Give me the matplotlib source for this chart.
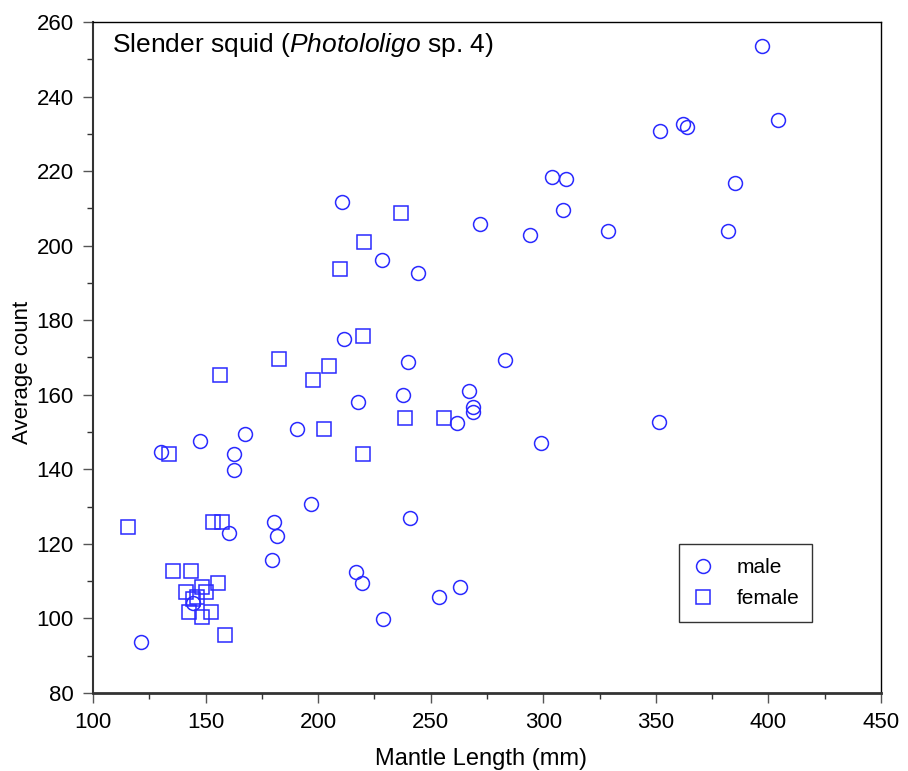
import matplotlib
matplotlib.use("Agg")
import matplotlib.pyplot as plt
from matplotlib.ticker import MultipleLocator

plt.rcParams["font.family"] = ["Liberation Sans", "DejaVu Sans"]
plt.rcParams["mathtext.fontset"] = "custom"
plt.rcParams["mathtext.rm"] = "Liberation Sans"
plt.rcParams["mathtext.it"] = "Liberation Sans:italic"

# male (circles)
male_ml = [121.5, 130.2, 144.4, 147.5, 160.5, 162.6, 162.6, 167.5, 179.7, 180.5,
           181.6, 190.5, 196.8, 210.6, 211.5, 216.7, 217.6, 219.6, 228.4, 228.6,
           237.8, 239.8, 240.8, 244.4, 253.8, 261.8, 262.9, 266.9, 268.9, 268.9,
           271.8, 282.8, 294.0, 298.8, 303.9, 308.9, 310.0, 328.9, 351.4, 352.0,
           361.9, 364.0, 382.0, 385.0, 397.0, 404.1]
male_cnt = [93.7, 144.6, 104.2, 147.6, 122.8, 144.0, 139.8, 149.5, 115.7, 125.8,
            122.2, 150.7, 130.7, 211.8, 174.9, 112.5, 158.0, 109.5, 196.2, 99.8,
            159.9, 168.8, 127.0, 192.7, 105.8, 152.5, 108.3, 161.0, 156.6, 155.5,
            205.8, 169.4, 202.8, 147.0, 218.5, 209.5, 217.9, 204.0, 152.7, 230.7,
            232.6, 231.9, 204.0, 216.7, 253.6, 233.7]

# female (squares)
female_ml = [115.4, 133.6, 135.4, 141.4, 142.5, 143.5, 144.6, 146.3, 148.5, 148.5,
             150.3, 152.4, 153.4, 155.5, 156.6, 157.4, 158.5, 182.6, 197.6, 202.7,
             204.7, 209.7, 219.9, 220.1, 220.4, 236.8, 238.7, 255.7]
female_cnt = [124.6, 144.0, 112.6, 107.1, 101.6, 112.6, 105.3, 105.8, 108.3, 100.5,
              107.1, 101.6, 125.9, 109.5, 165.2, 125.9, 95.6, 169.5, 164.0, 150.7,
              167.7, 193.7, 175.7, 144.0, 200.9, 208.8, 153.8, 153.8]

blue = "#2a2aff"

fig = plt.figure(figsize=(9.08, 7.71), dpi=100)
ax = fig.add_axes([0.1024, 0.1012, 0.8679, 0.8703])

ax.plot(male_ml, male_cnt, "o", ms=10, mfc="none", mec=blue, mew=1.1, label="male")
ax.plot(female_ml, female_cnt, "s", ms=10, mfc="none", mec=blue, mew=1.1, label="female")

ax.set_xlim(100, 450)
ax.set_ylim(80, 260)
ax.xaxis.set_major_locator(MultipleLocator(50))
ax.xaxis.set_minor_locator(MultipleLocator(25))
ax.yaxis.set_major_locator(MultipleLocator(20))
ax.yaxis.set_minor_locator(MultipleLocator(10))
ax.tick_params(which="major", direction="out", length=7, width=1, labelsize=16,
               color="#555555")
ax.tick_params(axis="x", which="major", pad=7)
ax.tick_params(axis="y", which="major", pad=7)
ax.tick_params(which="minor", direction="out", length=4, width=1, color="#333333")
ax.tick_params(top=False, right=False, which="both")

ax.spines["bottom"].set_linewidth(2)
ax.spines["bottom"].set_color("#333333")
ax.spines["left"].set_linewidth(1.5)
ax.spines["left"].set_color("#333333")
ax.spines["top"].set_linewidth(1)
ax.spines["right"].set_linewidth(1)

ax.set_xlabel("Mantle Length (mm)", fontsize=17, va="center")
ax.xaxis.set_label_coords(0.493, -0.099)
ax.set_ylabel("Average count", fontsize=16, va="center")
ax.yaxis.set_label_coords(-0.09, 0.478)

ax.text(0.024, 0.986, "Slender squid ($\\it{Photololigo}$ sp. 4)", transform=ax.transAxes,
        fontsize=19, va="top", ha="left")

leg = ax.legend(loc="lower left", bbox_to_anchor=(0.744, 0.106, 0.169, 0.118),
                mode="expand", borderaxespad=0, fontsize=15, frameon=True,
                fancybox=False, edgecolor="black", handlelength=1.0,
                handletextpad=1.1, borderpad=0.65, labelspacing=0.6)
leg.get_frame().set_linewidth(1)

plt.savefig("out.png", dpi=100)
